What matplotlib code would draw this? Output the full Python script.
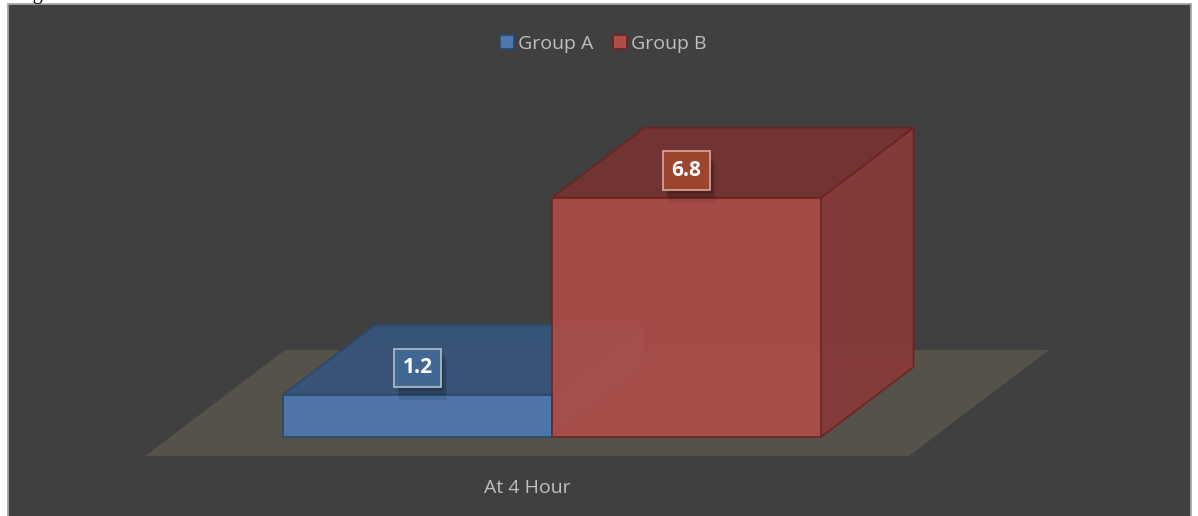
import matplotlib.pyplot as plt
from matplotlib.patches import Polygon, Rectangle, Patch
import matplotlib.patheffects as pe

# data
category = 'At 4 Hour'
series = ['Group A', 'Group B']
values = [1.2, 6.8]

front_colors = ['#4e79ae', '#ad4d48']
top_colors = ['#37557a', '#773331']
side_colors = ['#3f6290', '#8a3a39']
edge_colors = ['#284870', '#6b2420']
label_fills = ['#416892', '#9b452f']
label_edges = ['#b5bdc9', '#d9a89a']

W, H = 1198, 516
fig = plt.figure(figsize=(W / 100, H / 100), dpi=100, facecolor='white')

# dark chart panel with a thin grey border
fig.patches.append(Rectangle((8 / W, -0.01), 1183 / W, (H - 4) / H + 0.01,
                             transform=fig.transFigure, facecolor='#404040',
                             edgecolor='#a6a6a6', lw=1.3, zorder=-1))
# caption text sitting just above the page edge
fig.text(16 / W, 1 + 1 / H, 'Figure', va='baseline', ha='left',
         fontsize=14.4, family='Liberation Serif', color='black')

ax = fig.add_axes([0, 0, 1, 1])
ax.set_axis_off()
ax.patch.set_alpha(0)

# x in bar widths (0 = category centre on the floor's front edge), y in value units
ax.set_xlim((0 - 527) / 269, (W - 527) / 269)
ax.set_ylim((456 - H) / 35.2, 456 / 35.2)

# oblique depth direction
DX, DY = 140 / 269, 106 / 35.2
ZF, ZB = 19 / 106, 89 / 106
FLOOR_HALF = 1.42


def proj(x, y, z):
    return (x + z * DX, y + z * DY)


# floor
floor = [proj(-FLOOR_HALF, 0, 0), proj(FLOOR_HALF, 0, 0),
         proj(FLOOR_HALF, 0, 1), proj(-FLOOR_HALF, 0, 1)]
ax.add_patch(Polygon(floor, closed=True, facecolor='#55524a', edgecolor='none', zorder=1))

shadow = [pe.SimplePatchShadow(offset=(2, -3), shadow_rgbFace='black', alpha=0.12),
          pe.SimplePatchShadow(offset=(3, -6), shadow_rgbFace='black', alpha=0.12),
          pe.SimplePatchShadow(offset=(4, -9), shadow_rgbFace='black', alpha=0.08),
          pe.Normal()]

for i, (name, v) in enumerate(zip(series, values)):
    x0, x1 = i - 1, i
    z0 = 2 + i * 3
    # hidden back edges seen through the faces
    hidden = [[proj(x0, 0, ZF), proj(x0, 0, ZB), proj(x1, 0, ZB)],
              [proj(x0, 0, ZB), proj(x0, v, ZB)]]
    for seg in hidden:
        xs, ys = zip(*seg)
        ax.plot(xs, ys, color=edge_colors[i], lw=1, alpha=0.5, zorder=z0)

    front = [proj(x0, 0, ZF), proj(x1, 0, ZF), proj(x1, v, ZF), proj(x0, v, ZF)]
    top = [proj(x0, v, ZF), proj(x1, v, ZF), proj(x1, v, ZB), proj(x0, v, ZB)]
    side = [proj(x1, 0, ZF), proj(x1, 0, ZB), proj(x1, v, ZB), proj(x1, v, ZF)]
    for poly, fc in [(side, side_colors[i]), (top, top_colors[i]), (front, front_colors[i])]:
        ax.add_patch(Polygon(poly, closed=True, facecolor=fc, edgecolor=edge_colors[i],
                             lw=1.3, alpha=0.92, joinstyle='round', zorder=z0 + 1))

    # value label on the top face
    lx, ly = proj((x0 + x1) / 2, v + 27 / 35.2, ZF)
    t = ax.text(lx, ly, f'{v:.1f}', ha='center', va='center', fontsize=15,
                fontweight='bold', family='Open Sans', color='white',
                bbox=dict(boxstyle='square,pad=0.42', fc=label_fills[i], ec=label_edges[i], lw=1.2),
                zorder=z0 + 3)
    t.get_bbox_patch().set_path_effects(shadow)

# category label
fig.text(527 / W, 1 - 488 / H, category, ha='center', va='center',
         fontsize=14, family='Open Sans', color='#bfbfbf')

handles = [Patch(facecolor=front_colors[i], edgecolor=edge_colors[i], lw=1.2)
           for i in range(len(series))]
fig.legend(handles, series, loc='center', bbox_to_anchor=(603 / W, 1 - 44 / H),
           ncol=2, frameon=False, handlelength=0.72, handleheight=0.72,
           handletextpad=0.2, columnspacing=1.0, labelcolor='#bfbfbf',
           prop={'family': 'Open Sans', 'size': 14})

fig.savefig('out.png', dpi=100, facecolor='white')
